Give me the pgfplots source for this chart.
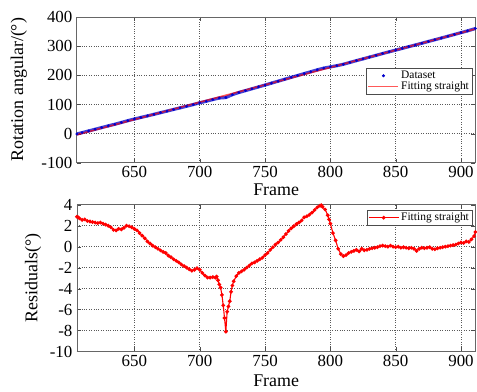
\documentclass[border=0pt]{standalone}
\usepackage{pgfplots}
\pgfplotsset{compat=1.18}
\usepackage{fontspec}
\setmainfont{Liberation Serif}
\begin{document}
\begin{tikzpicture}
\pgfplotsset{
  myax/.style={
    scale only axis, width=399bp, height=146bp,
    xmin=606, xmax=911,
    xtick={650,700,750,800,850,900},
    tick align=inside,
    grid=major,
    major grid style={dotted, black!65, line width=0.6pt},
    axis line style={black!60, line width=0.8pt},
    tick style={black!70},
    /pgf/number format/assume math mode=true,
    xticklabel={\pgfmathprintnumber[assume math mode=true]{\tick}},
    yticklabel={\pgfmathprintnumber[assume math mode=true]{\tick}},
    ticklabel style={font=\fontsize{17}{19}\selectfont},
    yticklabel style={xshift=-1bp},
    label style={font=\fontsize{18}{20}\selectfont},
    xlabel={Frame},
    legend cell align=left,
    legend style={font=\fontsize{11.5}{12}\selectfont, draw=black!70, line width=0.6pt,
      inner sep=1pt, row sep=-2.5pt},
  },
  longline/.style={legend image code/.code={\draw[##1] (0bp,0bp) -- (30bp,0bp);}},
  longmark/.style={legend image code/.code={\draw[##1] plot coordinates {(15bp,0bp)};}},
  longlinemark/.style={legend image code/.code={\draw[##1, mark repeat=2, mark phase=2] plot coordinates {(0bp,0bp) (15bp,0bp) (30bp,0bp)};}},
}
\begin{axis}[myax, at={(0,0)}, anchor=north west,
  ymin=-100, ymax=400, ytick={-100,0,100,200,300,400},
  ylabel={Rotation angular/(°)},
  ylabel style={at={(axis description cs:-0.146,0.5)}, anchor=center, rotate=0},
  xlabel style={at={(axis description cs:0.5,-0.185)}, anchor=center},
  legend style={at={(0.992,0.65)}, anchor=north east}]
\addplot[forget plot, color=blue!80!black, line width=3.2pt, opacity=0.75] coordinates {
(606,-1.2)(610,3.4)(615,9.1)(620,15.0)(625,20.8)(630,26.6)(635,32.1)(640,38.2)(645,44.4)(650,50.1)
(655,55.5)(660,60.8)(665,66.2)(670,71.8)(675,77.3)(680,82.9)(685,88.4)(690,94.0)(695,99.6)(700,105.7)
(705,111.0)(710,116.8)(715,122.2)(720,123.7)(725,133.6)(730,141.1)(735,147.4)(740,153.8)(745,160.2)(750,166.6)
(755,173.2)(760,179.8)(765,186.3)(770,193.0)(775,199.3)(780,205.9)(785,212.2)(790,218.8)(795,224.6)(800,228.9)
(805,232.9)(810,237.9)(815,244.1)(820,250.4)(825,256.3)(830,262.4)(835,268.4)(840,274.6)(845,280.5)(850,286.4)
(855,292.2)(860,298.2)(865,303.9)(870,309.9)(875,316.0)(880,321.9)(885,327.9)(890,334.0)(895,340.1)(900,346.3)
(905,352.3)(911,360.4)};
\addplot[only marks, mark=*, mark size=1.2pt, color=blue!80!black, longmark] coordinates {
(606,-1.2)(610,3.4)(615,9.1)(620,15.0)(625,20.8)(630,26.6)(635,32.1)(640,38.2)(645,44.4)(650,50.1)
(655,55.5)(660,60.8)(665,66.2)(670,71.8)(675,77.3)(680,82.9)(685,88.4)(690,94.0)(695,99.6)(700,105.7)
(705,111.0)(710,116.8)(715,122.2)(720,123.7)(725,133.6)(730,141.1)(735,147.4)(740,153.8)(745,160.2)(750,166.6)
(755,173.2)(760,179.8)(765,186.3)(770,193.0)(775,199.3)(780,205.9)(785,212.2)(790,218.8)(795,224.6)(800,228.9)
(805,232.9)(810,237.9)(815,244.1)(820,250.4)(825,256.3)(830,262.4)(835,268.4)(840,274.6)(845,280.5)(850,286.4)
(855,292.2)(860,298.2)(865,303.9)(870,309.9)(875,316.0)(880,321.9)(885,327.9)(890,334.0)(895,340.1)(900,346.3)
(905,352.3)(911,360.4)};
\addlegendentry{Dataset}
\addplot[color=red, line width=1.6pt, opacity=0.65, longline] coordinates {(606,-4)(911,358.95)};
\addlegendentry{Fitting straight}
\end{axis}
\begin{axis}[myax, at={(0,-188bp)}, anchor=north west, height=147bp,
  ymin=-10, ymax=4, ytick={-10,-8,-6,-4,-2,0,2,4},
  ylabel={Residuals(°)},
  ylabel style={at={(axis description cs:-0.110,0.5)}, anchor=center, rotate=0},
  xlabel style={at={(axis description cs:0.5,-0.197)}, anchor=center},
  legend style={at={(0.992,0.966)}, anchor=north east}]
\addplot[color=red, line width=1.1pt, mark=*, mark size=1.3pt, longlinemark] coordinates {
(606,2.85)(607,2.8)(608,2.7)(610,2.55)(612,2.6)(614,2.45)(616,2.4)(618,2.35)(620,2.3)(622,2.25)(624,2.3)
(626,2.2)(628,2.1)(630,2.0)(632,1.85)(634,1.6)(636,1.55)(638,1.7)(640,1.65)(642,1.8)(644,2.0)
(646,1.95)(648,1.85)(650,1.7)(652,1.55)(654,1.3)(656,1.05)(658,0.8)(660,0.5)(662,0.3)(664,0.1)
(666,-0.05)(668,-0.2)(670,-0.35)(672,-0.5)(674,-0.6)(676,-0.85)(678,-1.0)(680,-1.2)(682,-1.35)(684,-1.5)
(686,-1.7)(688,-1.85)(690,-2.0)(692,-2.15)(694,-2.3)(696,-2.2)(698,-2.05)(700,-2.2)(702,-2.5)(704,-2.75)
(706,-2.95)(708,-2.95)(710,-2.9)(712,-2.95)(713,-2.85)(714,-3.2)(715,-3.6)(716,-3.9)(717,-4.6)(718,-5.6)
(719,-6.8)(720,-8.1)(721,-6.2)(722,-5.7)(723,-5.2)(724,-4.3)(725,-3.7)(726,-3.3)(728,-2.8)(730,-2.5)
(732,-2.35)(734,-2.2)(736,-2.0)(738,-1.8)(740,-1.6)(742,-1.5)(744,-1.35)(746,-1.2)(748,-1.05)(750,-0.8)
(752,-0.6)(754,-0.3)(756,-0.05)(758,0.2)(760,0.4)(762,0.65)(764,0.9)(766,1.2)(768,1.5)(770,1.75)
(772,1.95)(774,2.15)(776,2.3)(778,2.5)(780,2.8)(782,2.9)(784,3.05)(786,3.25)(788,3.5)(790,3.75)
(792,3.9)(793,3.95)(794,3.8)(796,3.55)(798,3.0)(799,2.6)(800,2.2)(802,1.3)(804,0.6)(806,-0.2)
(808,-0.7)(810,-0.9)(812,-0.8)(814,-0.6)(816,-0.5)(818,-0.4)(820,-0.3)(822,-0.45)(824,-0.2)(826,-0.35)
(828,-0.3)(830,-0.2)(832,-0.15)(834,-0.1)(836,-0.05)(838,0.05)(840,0.1)(842,0.05)(844,0.0)(846,0.1)
(848,0.0)(850,-0.05)(852,0.0)(854,-0.1)(856,-0.05)(858,-0.1)(860,-0.15)(862,-0.1)(864,-0.2)(866,-0.4)
(868,-0.2)(870,-0.1)(872,-0.15)(874,-0.1)(876,-0.05)(878,-0.2)(880,-0.25)(882,-0.15)(884,-0.1)(886,-0.05)
(888,0.0)(890,0.05)(892,0.1)(894,0.15)(896,0.2)(898,0.3)(900,0.4)(902,0.35)(904,0.5)(906,0.45)
(908,0.7)(910,1.0)(911,1.4)};
\addlegendentry{Fitting straight}
\end{axis}
\useasboundingbox (-77bp,17bp) rectangle (400bp,-375bp);
\end{tikzpicture}
\end{document}
